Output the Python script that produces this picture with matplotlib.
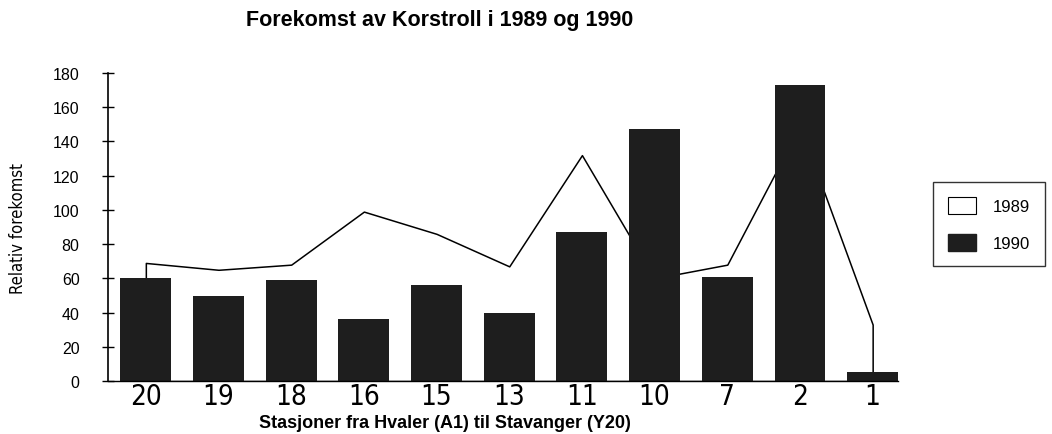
import matplotlib
matplotlib.use('Agg')
import matplotlib.pyplot as plt
from matplotlib.patches import Patch
import numpy as np

# stations from Hvaler to Stavanger
stations = ['20', '19', '18', '16', '15', '13', '11', '10', '7', '2', '1']
val_1989 = [69, 65, 68, 99, 86, 67, 132, 60, 68, 149, 33]
val_1990 = [60, 49.5, 59, 36, 56, 39.5, 87, 147, 61, 173, 5.5]

x = np.arange(len(stations))

narrow = ['Liberation Sans Narrow', 'DejaVu Sans']
sans = ['Liberation Sans', 'DejaVu Sans']

fig = plt.figure(figsize=(10.52, 4.35), dpi=100)
ax = fig.add_axes([0.1027, 0.1218, 0.751, 0.7081])

# 1989 is drawn as a white area behind the bars
ax.fill_between(x, 0, val_1989, facecolor='white', edgecolor='black', linewidth=1.1, zorder=1)
ax.bar(x, val_1990, width=0.70, color='#1e1e1e', zorder=2)

ax.set_xlim(-0.52, 10.35)
ax.set_ylim(0, 180)
ax.set_yticks(range(0, 181, 20))
ax.set_xticks(x)
ax.set_xticklabels(stations, fontfamily=narrow, fontstretch='condensed', fontweight='light', fontsize=20)
ax.tick_params(axis='x', length=0, pad=1)
ax.tick_params(axis='y', direction='inout', length=9, width=1, labelsize=11.5, pad=16)
for lab in ax.get_yticklabels():
    lab.set_fontfamily(sans)

ax.spines['top'].set_visible(False)
ax.spines['right'].set_visible(False)
ax.spines['left'].set_linewidth(1.2)
ax.spines['bottom'].set_linewidth(1.0)

ax.set_ylabel('Relativ forekomst', fontfamily=narrow, fontstretch='condensed', fontsize=12)
ax.yaxis.set_label_coords(-0.1025, 0.5)
ax.set_xlabel('Stasjoner fra Hvaler (A1) til Stavanger (Y20)', fontfamily=sans,
              fontweight='bold', fontsize=13)
ax.xaxis.set_label_coords(0.4266, -0.108)

fig.text(0.418, 0.953, 'Forekomst av Korstroll i 1989 og 1990', ha='center', va='center',
         fontfamily=sans, fontweight='bold', fontsize=15.5)

handles = [Patch(facecolor='white', edgecolor='black', linewidth=0.8, label='1989'),
           Patch(facecolor='#1e1e1e', edgecolor='#1e1e1e', label='1990')]
leg = fig.legend(handles=handles, loc='upper left', bbox_to_anchor=(933 / 1052, 1 - 183 / 435),
                 frameon=True, fancybox=False, edgecolor='black',
                 prop={'family': sans, 'size': 12},
                 handlelength=1.7, handleheight=1.2, labelspacing=1.2, borderpad=0.9,
                 handletextpad=1.0, borderaxespad=0)
leg.get_frame().set_linewidth(1.0)

fig.savefig('out.png', dpi=100)
